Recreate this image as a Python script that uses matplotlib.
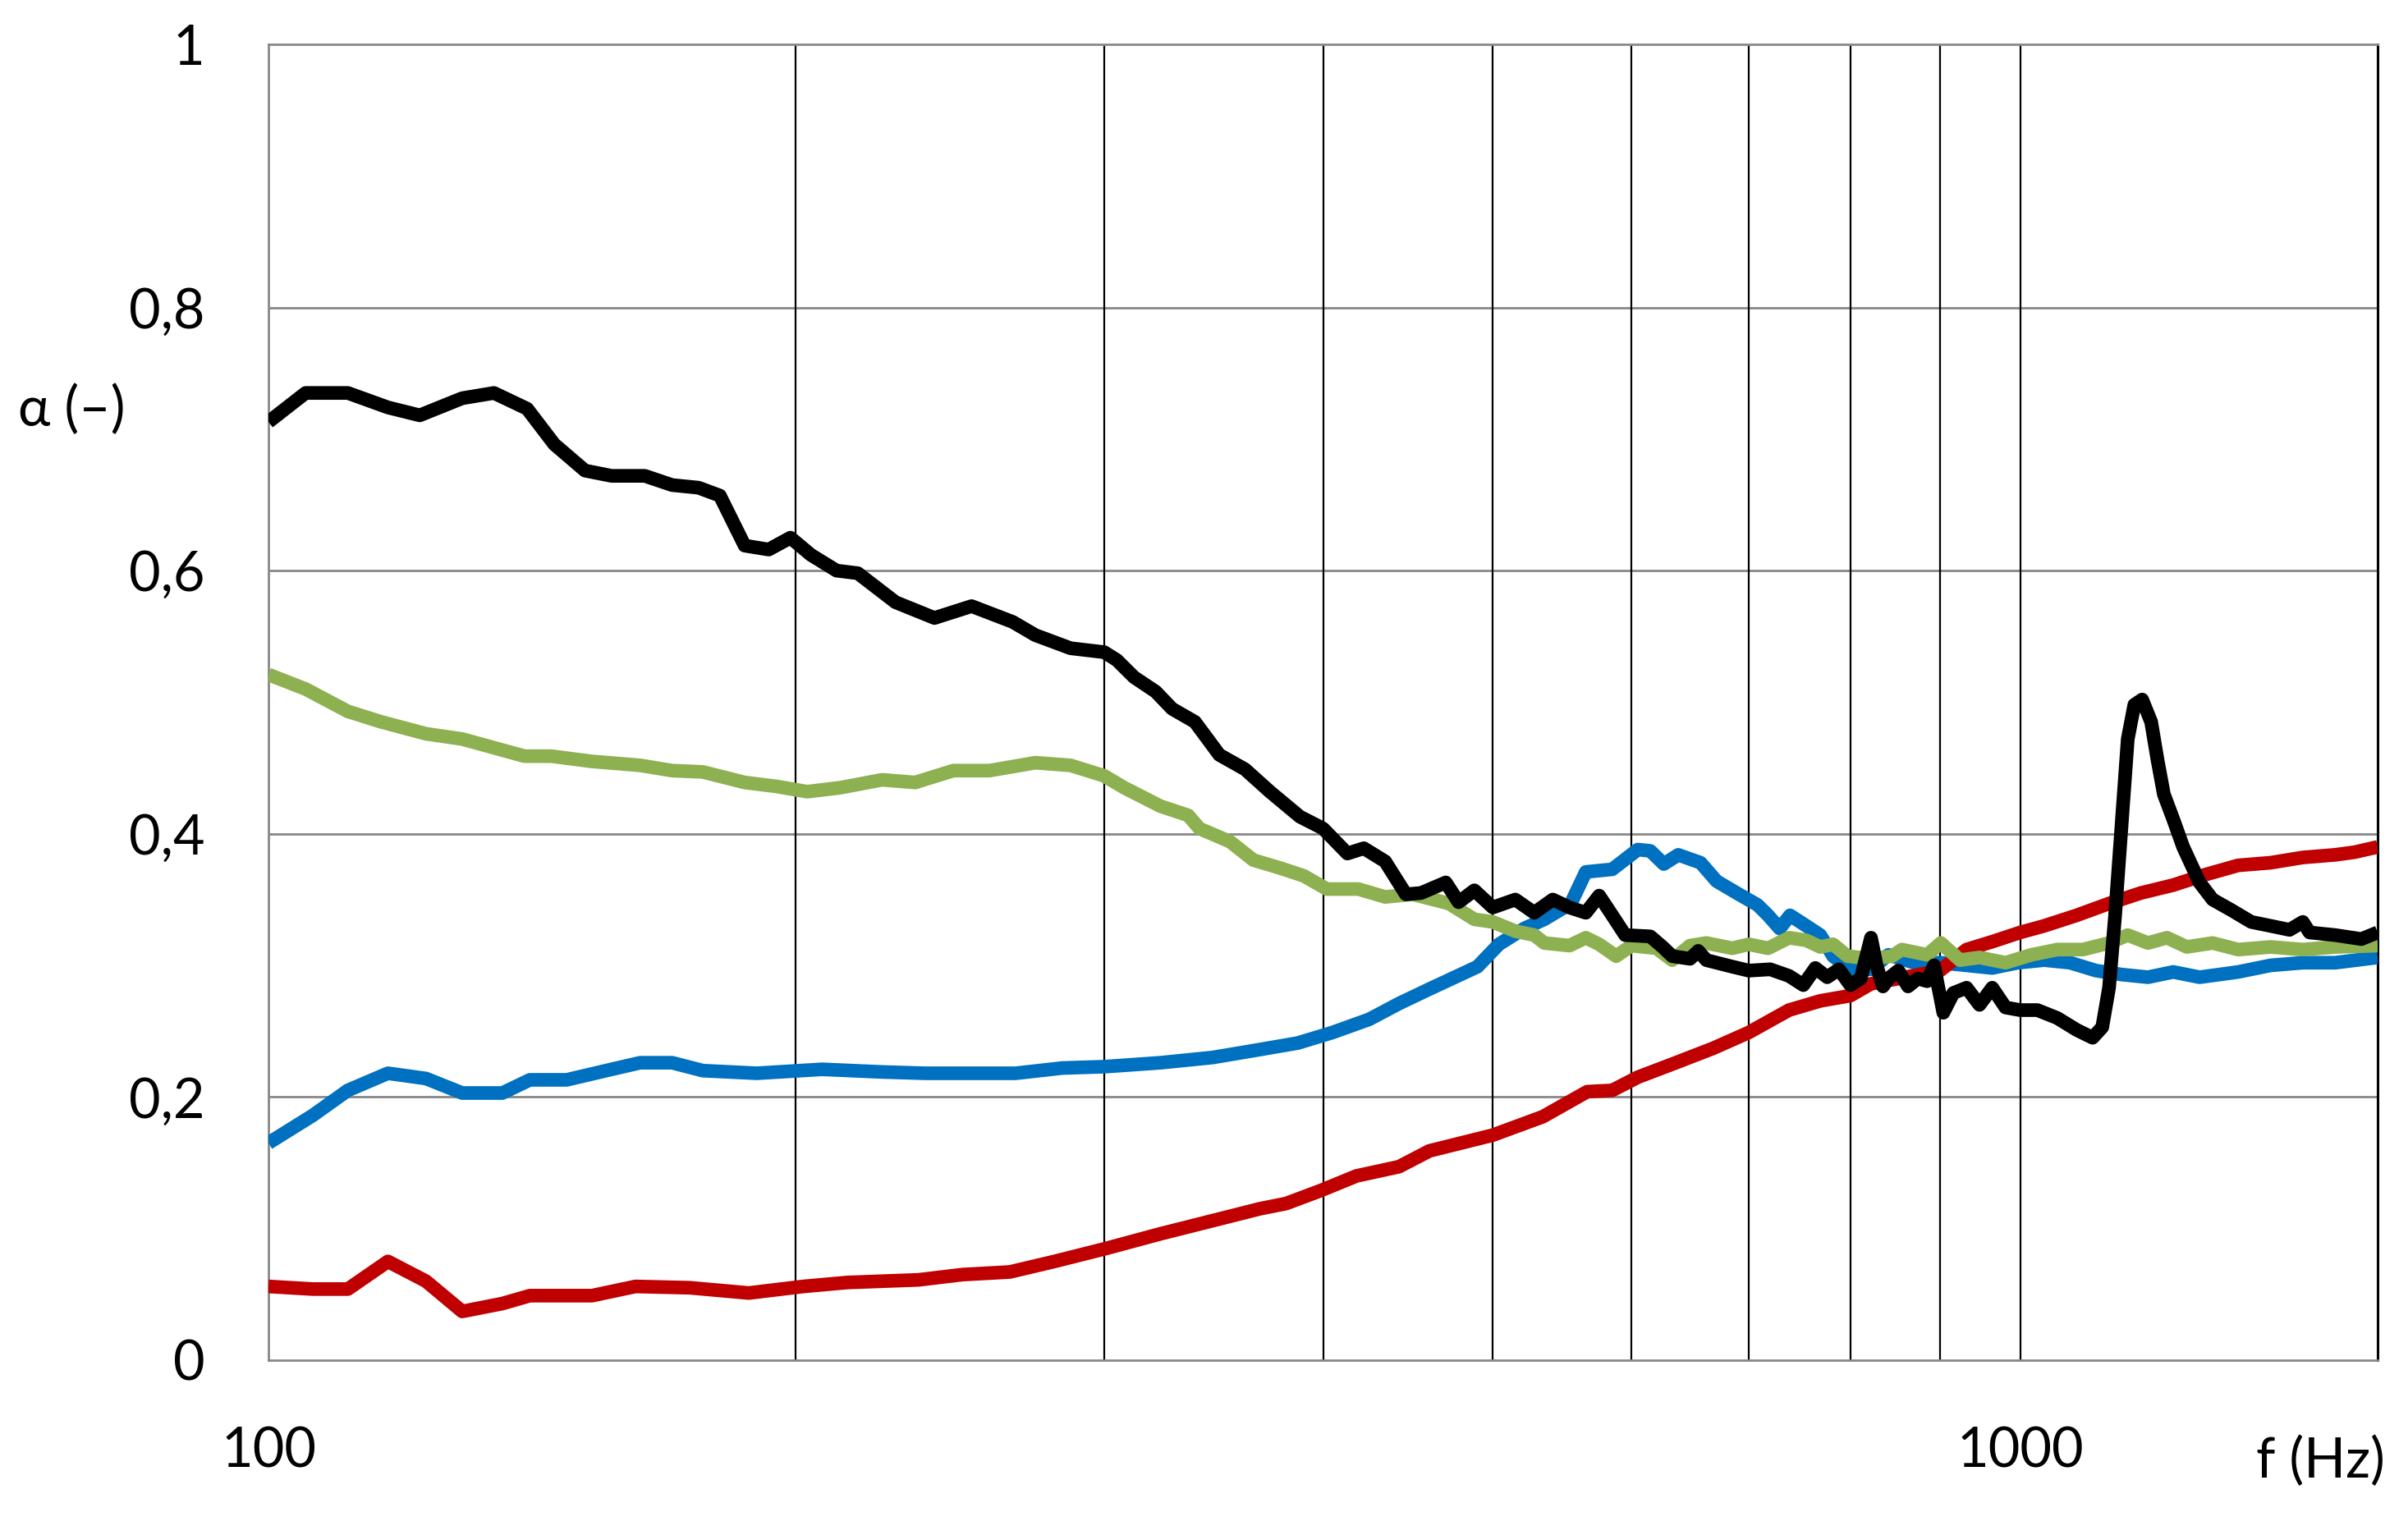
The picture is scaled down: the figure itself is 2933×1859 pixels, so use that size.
import matplotlib.pyplot as plt
from matplotlib.ticker import FixedLocator, NullFormatter, FixedFormatter
import numpy as np

# absorption curves: frequency (Hz) and alpha (-)
black_f = [100, 105, 111, 117, 122, 129, 134.5, 140.5, 145.6, 151.6, 157, 164, 170, 176, 181,
           187, 193, 198.6, 204, 211, 217, 228, 240, 252, 266, 274, 287, 300, 305, 312, 321,
           328, 338, 349, 361, 373, 388, 400, 413, 422, 434, 446, 455, 470, 478, 488, 500,
           515, 528, 541, 553, 565, 575, 585, 595, 615, 625, 633, 648, 655, 662, 685, 700,
           720, 738, 752, 764, 776, 788, 800, 811, 822, 828, 835, 841, 852, 863, 874, 885,
           893, 904, 916, 932, 948, 964, 981, 1000, 1023, 1050, 1077, 1100, 1114, 1124, 1133,
           1143, 1152, 1162, 1174, 1188, 1198, 1208, 1223, 1239, 1266, 1288, 1320, 1355, 1390,
           1425, 1450, 1463, 1513, 1566, 1600]
black_a = [0.713, 0.735, 0.735, 0.724, 0.718, 0.731, 0.735, 0.723, 0.696, 0.676, 0.672, 0.672,
           0.665, 0.663, 0.657, 0.619, 0.616, 0.625, 0.612, 0.600, 0.598, 0.576, 0.564, 0.573,
           0.561, 0.551, 0.541, 0.538, 0.532, 0.519, 0.508, 0.495, 0.485, 0.460, 0.449, 0.432,
           0.413, 0.404, 0.385, 0.389, 0.379, 0.354, 0.355, 0.363, 0.348, 0.357, 0.344, 0.350,
           0.340, 0.350, 0.344, 0.340, 0.353, 0.338, 0.323, 0.322, 0.314, 0.307, 0.305, 0.311,
           0.304, 0.299, 0.296, 0.297, 0.292, 0.285, 0.298, 0.291, 0.297, 0.285, 0.290, 0.321,
           0.300, 0.284, 0.290, 0.296, 0.284, 0.290, 0.288, 0.300, 0.264, 0.279, 0.283, 0.270,
           0.283, 0.268, 0.266, 0.266, 0.260, 0.251, 0.245, 0.253, 0.283, 0.338, 0.409, 0.472,
           0.498, 0.502, 0.485, 0.456, 0.430, 0.411, 0.390, 0.363, 0.350, 0.342, 0.333, 0.330,
           0.327, 0.333, 0.325, 0.323, 0.320, 0.325]

red_f = [100, 106, 111, 117, 123, 129, 136, 141, 153, 162, 174, 188, 202, 214, 235, 249, 265,
         281, 301, 323, 346, 368, 381, 399, 418, 442, 460, 500, 534, 566, 585, 605, 636, 668,
         700, 738, 769, 800, 822, 900, 932, 964, 1000, 1032, 1077, 1124, 1172, 1223, 1276,
         1332, 1390, 1450, 1513, 1552, 1600]
red_a = [0.056, 0.054, 0.054, 0.075, 0.060, 0.037, 0.043, 0.049, 0.049, 0.056, 0.055, 0.051,
         0.056, 0.059, 0.061, 0.065, 0.067, 0.075, 0.085, 0.096, 0.106, 0.115, 0.119, 0.129,
         0.140, 0.147, 0.159, 0.171, 0.185, 0.204, 0.205, 0.215, 0.226, 0.237, 0.249, 0.266,
         0.273, 0.277, 0.286, 0.296, 0.312, 0.318, 0.325, 0.330, 0.338, 0.347, 0.355, 0.361,
         0.369, 0.376, 0.378, 0.382, 0.384, 0.386, 0.390]

blue_f = [100, 106, 111, 117, 123, 129, 136, 141, 148, 157, 163, 170, 177, 190, 207, 224, 237,
          267, 284, 300, 323, 346, 368, 387, 405, 425, 442, 460, 490, 504, 521, 535, 554, 565,
          585, 605, 615, 626, 638, 657, 671, 691, 708, 718, 729, 739, 755, 769, 782, 800, 822,
          841, 870, 901, 932, 964, 997, 1032, 1068, 1105, 1143, 1183, 1223, 1266, 1299, 1332,
          1390, 1450, 1513, 1600]
blue_a = [0.165, 0.186, 0.205, 0.218, 0.214, 0.203, 0.203, 0.213, 0.213, 0.221, 0.226, 0.226,
          0.220, 0.218, 0.221, 0.219, 0.218, 0.218, 0.222, 0.223, 0.226, 0.230, 0.236, 0.241,
          0.249, 0.259, 0.271, 0.282, 0.299, 0.316, 0.328, 0.335, 0.347, 0.371, 0.373, 0.388,
          0.387, 0.377, 0.384, 0.378, 0.364, 0.354, 0.346, 0.338, 0.328, 0.338, 0.330, 0.323,
          0.307, 0.297, 0.297, 0.308, 0.302, 0.302, 0.300, 0.298, 0.302, 0.304, 0.302, 0.296,
          0.293, 0.291, 0.295, 0.291, 0.293, 0.295, 0.300, 0.302, 0.302, 0.306]

green_f = [100, 105, 111, 116, 123, 129, 140, 145, 153, 163, 170, 177, 187, 195, 203, 212, 224,
           234, 246, 258, 274, 287, 300, 308, 323, 335, 340, 354, 365, 378, 390, 402, 419, 434,
           450, 472, 488, 500, 515, 528, 535, 553, 565, 575, 588, 600, 620, 633, 648, 662, 685,
           700, 718, 738, 755, 769, 782, 797, 822, 845, 856, 885, 901, 924, 948, 981, 1015,
           1050, 1086, 1124, 1152, 1183, 1213, 1245, 1288, 1332, 1390, 1450, 1513, 1600]
green_a = [0.521, 0.510, 0.493, 0.485, 0.476, 0.472, 0.459, 0.459, 0.455, 0.452, 0.448, 0.447,
           0.439, 0.436, 0.432, 0.435, 0.441, 0.439, 0.448, 0.448, 0.454, 0.452, 0.444, 0.435,
           0.421, 0.414, 0.404, 0.394, 0.380, 0.374, 0.368, 0.358, 0.358, 0.352, 0.354, 0.347,
           0.335, 0.333, 0.326, 0.323, 0.317, 0.315, 0.321, 0.316, 0.307, 0.315, 0.313, 0.304,
           0.315, 0.317, 0.313, 0.316, 0.313, 0.321, 0.319, 0.314, 0.316, 0.307, 0.305, 0.307,
           0.312, 0.308, 0.317, 0.304, 0.306, 0.302, 0.308, 0.312, 0.312, 0.317, 0.323, 0.317,
           0.321, 0.314, 0.317, 0.312, 0.314, 0.312, 0.314, 0.315]

y_ticks = [0, 0.2, 0.4, 0.6, 0.8, 1.0]
y_labels = ['0', '0,2', '0,4', '0,6', '0,8', '1']
x_major = [100, 1000]
x_minor = [200, 300, 400, 500, 600, 700, 800, 900]

plt.rcParams['font.family'] = ['Lato', 'DejaVu Sans']

fig = plt.figure(figsize=(29.33, 18.59), dpi=100)
ax = fig.add_axes([0.1115, 0.1087, 0.8759, 0.8623])

ax.set_xscale('log')
ax.set_xlim(100, 1600)
ax.set_ylim(0, 1)

# grid: grey horizontals, black verticals
for v in y_ticks[1:-1]:
    ax.axhline(v, color='#888888', lw=2.0, zorder=1)
for f in x_minor:
    ax.axvline(f, color='black', lw=1.6, zorder=1)
ax.axvline(1000, color='black', lw=1.6, zorder=1)

lw = 12
ax.plot(blue_f, blue_a, color='#0070C0', lw=lw, solid_joinstyle='round', solid_capstyle='butt', zorder=3)
ax.plot(red_f, red_a, color='#C00000', lw=lw, solid_joinstyle='round', solid_capstyle='butt', zorder=4)
ax.plot(green_f, green_a, color='#8DB050', lw=lw, solid_joinstyle='round', solid_capstyle='butt', zorder=4)
ax.plot(black_f, black_a, color='black', lw=lw, solid_joinstyle='round', solid_capstyle='butt', zorder=5)

for side in ['top', 'left', 'bottom']:
    ax.spines[side].set_color('#888888')
    ax.spines[side].set_linewidth(2.0)
ax.spines['right'].set_color('black')
ax.spines['right'].set_linewidth(2.2)

ax.yaxis.set_major_locator(FixedLocator(y_ticks))
ax.yaxis.set_major_formatter(FixedFormatter(y_labels))
ax.xaxis.set_major_locator(FixedLocator(x_major))
ax.xaxis.set_major_formatter(FixedFormatter([str(v) for v in x_major]))
ax.xaxis.set_minor_locator(FixedLocator(x_minor))
ax.xaxis.set_minor_formatter(NullFormatter())
ax.tick_params(axis='both', which='both', length=0, labelsize=48)
ax.tick_params(axis='y', pad=56)
ax.tick_params(axis='x', pad=58)

fig.text(22 / 2933, 1 - 500 / 1859, 'α (–)', fontsize=48, ha='left', va='center')
fig.text(2905 / 2933, 1 - 1781 / 1859, 'f (Hz)', fontsize=48, ha='right', va='center')

fig.savefig('out.png', dpi=100, facecolor='white')
